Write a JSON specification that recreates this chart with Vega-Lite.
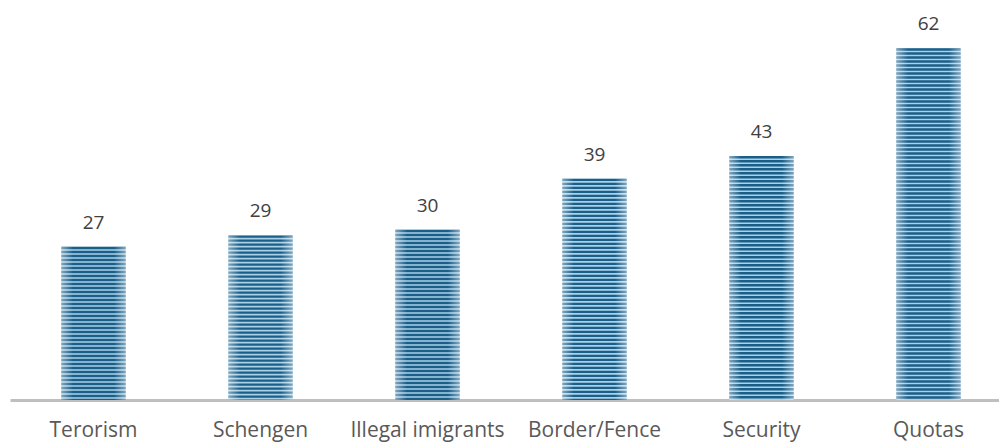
{
  "$schema": "https://vega.github.io/schema/vega-lite/v6.json",
  "width": 1002,
  "height": 400,
  "padding": {"left": 10, "top": 0, "right": 0, "bottom": 43},
  "autosize": {"type": "none"},
  "background": "white",
  "config": {"view": {"stroke": null}, "font": "Open Sans"},
  "data": {"values": [
    {"topic": "Terorism", "value": 27},
    {"topic": "Schengen", "value": 29},
    {"topic": "Illegal imigrants", "value": 30},
    {"topic": "Border/Fence", "value": 39},
    {"topic": "Security", "value": 43},
    {"topic": "Quotas", "value": 62}
  ]},
  "encoding": {
    "x": {"field": "topic", "type": "nominal", "sort": null,
      "scale": {"paddingInner": 0.617, "paddingOuter": 0.3085},
      "axis": {"title": null, "labelAngle": 0, "ticks": false, "tickSize": 0, "labelPadding": 36,
        "labelBaseline": "alphabetic",
        "labelFontSize": 21, "labelColor": "#595959", "labelFont": "Open Sans",
        "domainColor": "#bfbfbf", "domainWidth": 3, "grid": false}},
    "y": {"field": "value", "type": "quantitative",
      "scale": {"domain": [0, 70.5], "nice": false, "zero": true},
      "axis": null}
  },
  "layer": [
    {"mark": {"type": "bar", "color": "#a9d2e8"}},
    {"mark": {"type": "rule", "color": "#1b5e88", "strokeWidth": 64, "strokeDash": [2.4, 1.6], "strokeCap": "butt"},
     "encoding": {"y2": {"datum": 0}}},
    {"mark": {"type": "bar", "color": {"gradient": "linear", "x1": 0, "y1": 0, "x2": 1, "y2": 0,
      "stops": [
        {"offset": 0, "color": "rgba(255,255,255,0.45)"},
        {"offset": 0.18, "color": "rgba(255,255,255,0)"},
        {"offset": 0.82, "color": "rgba(255,255,255,0)"},
        {"offset": 1, "color": "rgba(255,255,255,0.45)"}
      ]}}},
    {"mark": {"type": "text", "baseline": "alphabetic", "dy": -18, "fontSize": 19, "color": "#404040", "font": "Open Sans"},
     "encoding": {"text": {"field": "value", "type": "quantitative"}}}
  ]
}
